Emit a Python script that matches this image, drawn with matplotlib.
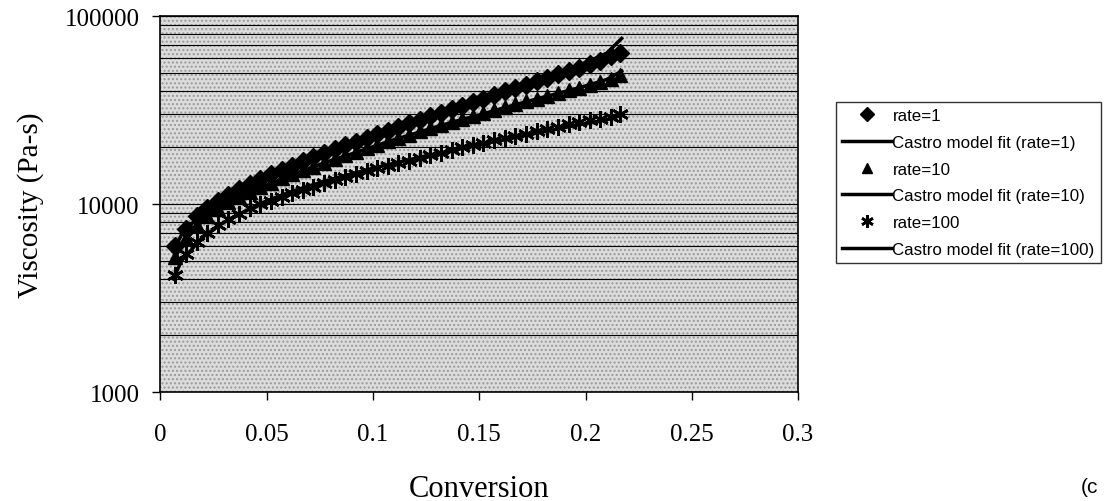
import matplotlib
matplotlib.use("Agg")
import matplotlib.pyplot as plt
from matplotlib.patches import Rectangle
from matplotlib.ticker import FixedLocator, LogLocator, NullFormatter

conv = [0.007, 0.012, 0.017, 0.022, 0.027, 0.032, 0.037, 0.042, 0.047, 0.052,
        0.057, 0.062, 0.067, 0.072, 0.077, 0.082, 0.087, 0.092, 0.097, 0.102,
        0.107, 0.112, 0.117, 0.122, 0.127, 0.132, 0.137, 0.142, 0.147, 0.152,
        0.157, 0.162, 0.167, 0.172, 0.177, 0.182, 0.187, 0.192, 0.197, 0.202,
        0.207, 0.212, 0.216]
visc_r1 = [6000, 7400, 8600, 9500, 10400, 11200, 12000, 12800, 13600, 14400,
           15200, 16000, 16900, 17800, 18700, 19600, 20500, 21500, 22500, 23500,
           24600, 25700, 26900, 28100, 29300, 30600, 32000, 33400, 34900, 36400,
           38000, 39700, 41400, 43200, 45000, 46900, 48900, 51000, 53200, 55500,
           58000, 61000, 64000]
visc_r10 = [5200, 6600, 7700, 8600, 9400, 10200, 10900, 11600, 12300, 13000,
            13700, 14400, 15100, 15800, 16600, 17400, 18200, 19000, 19800, 20700,
            21600, 22500, 23400, 24400, 25400, 26400, 27400, 28400, 29500, 30600,
            31700, 32800, 34000, 35200, 36400, 37600, 38900, 40200, 41600, 43000,
            44600, 46500, 48500]
visc_r100 = [4200, 5400, 6300, 7000, 7700, 8300, 8900, 9500, 9950, 10400,
             10900, 11400, 11900, 12400, 12900, 13400, 13900, 14500, 15000, 15500,
             16000, 16500, 17000, 17600, 18200, 18800, 19400, 20000, 20600, 21200,
             21800, 22400, 23000, 23700, 24400, 25100, 25800, 26500, 27200, 27900,
             28500, 29200, 30000]

# Castro model fits
conv_fit = [0.006, 0.01, 0.02, 0.03, 0.04, 0.05, 0.06, 0.07, 0.08, 0.09, 0.10,
            0.11, 0.12, 0.13, 0.14, 0.15, 0.16, 0.17, 0.18, 0.19, 0.20, 0.21, 0.217]
fit_r1 = [5600, 6900, 9100, 10900, 12500, 14000, 15600, 17400, 19300, 21200, 23200,
          25300, 27600, 30100, 32900, 35900, 39200, 42800, 46800, 51200, 56500, 63500, 76000]
fit_r10 = [4900, 6100, 8200, 9800, 11200, 12600, 14000, 15500, 17000, 18500, 20200,
           22000, 23800, 25800, 27800, 29800, 32100, 34500, 37000, 39600, 42500, 46000, 51000]
fit_r100 = [4000, 5000, 6700, 8000, 9200, 10400, 11500, 12500, 13500, 14500, 15500,
            16500, 17500, 18500, 19600, 20700, 21800, 23000, 24200, 25500, 26800, 28100, 29600]

fig = plt.figure(figsize=(11.05, 5.02), dpi=100)
ax = fig.add_axes([0.1452, 0.217, 0.577, 0.749])

ax.set_facecolor("#dcdcdc")
ax.add_patch(Rectangle((0, 0), 1, 1, transform=ax.transAxes, facecolor="none",
                       edgecolor="#9a9a9a", hatch="....", lw=0, zorder=0))

ax.set_yscale("log")
ax.set_xlim(0, 0.3)
ax.set_ylim(1000, 100000)

serif = "Liberation Serif"
ax.yaxis.set_major_locator(FixedLocator([1000, 10000, 100000]))
ax.yaxis.set_minor_locator(LogLocator(base=10, subs=range(2, 10)))
ax.yaxis.set_minor_formatter(NullFormatter())
ax.set_xticks([0, 0.05, 0.1, 0.15, 0.2, 0.25, 0.3])
ax.tick_params(axis="y", which="minor", length=0)
ax.tick_params(axis="both", which="major", direction="out", length=6, width=1,
               labelsize=18, labelfontfamily=serif)
ax.tick_params(axis="x", pad=16)
ax.tick_params(axis="y", pad=9)
ax.set_xticklabels(["0", "0.05", "0.1", "0.15", "0.2", "0.25", "0.3"])
ax.set_yticklabels(["1000", "10000", "100000"])

ax.grid(True, axis="y", which="both", color="black", lw=0.8)
ax.set_axisbelow(True)

ax.set_xlabel("Conversion", family=serif, fontsize=22, labelpad=21)
ax.set_ylabel("Viscosity (Pa-s)", family=serif, fontsize=21, labelpad=15)

ast = (6, 2, 0)
ax.plot(conv, visc_r1, ls="none", marker="D", ms=9, color="black", label="rate=1", zorder=3)
ax.plot(conv_fit, fit_r1, color="black", lw=2.5, label="Castro model fit (rate=1)", zorder=4)
ax.plot(conv, visc_r10, ls="none", marker="^", ms=10, color="black", label="rate=10", zorder=3)
ax.plot(conv_fit, fit_r10, color="black", lw=2.5, label="Castro model fit (rate=10)", zorder=4)
ax.plot(conv, visc_r100, ls="none", marker=ast, ms=12, mew=1.9, color="black", label="rate=100", zorder=3)
ax.plot(conv_fit, fit_r100, color="black", lw=2.5, label="Castro model fit (rate=100)", zorder=4)

for s in ax.spines.values():
    s.set_linewidth(1.2)

leg = ax.legend(loc="upper left", bbox_to_anchor=(0.757, 0.795), bbox_transform=fig.transFigure,
                prop={"family": "Liberation Sans", "size": 12.2}, frameon=True, fancybox=False,
                edgecolor="black", handlelength=2.9, borderaxespad=0, labelspacing=0.7,
                handletextpad=0.05, borderpad=0.35, markerscale=0.75)
leg.get_frame().set_linewidth(1.0)

fig.text(0.978, 0.018, "(c", family="Liberation Sans", fontsize=15)

fig.savefig("out.png", dpi=100)
